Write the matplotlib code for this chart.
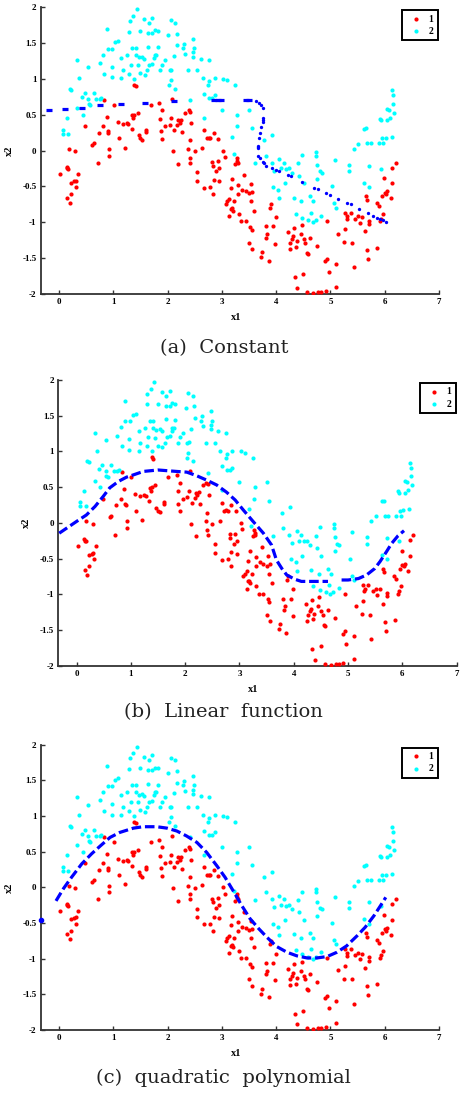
import numpy as np
import matplotlib
matplotlib.use("Agg")
import matplotlib.pyplot as plt

# class 1 (red) samples
red_x1 = [0.02, 0.14, 0.15, 0.17, 0.15, 0.20, 0.22, 0.23, 0.28, 0.31, 0.32, 0.35, 0.30, 0.18,
          0.48, 0.61, 0.64, 0.71, 0.73, 0.81, 0.83, 0.88, 0.90, 0.91, 0.92, 0.93, 1.01, 1.08,
          1.10, 1.17, 1.21, 1.25, 1.27, 1.35, 1.34, 1.37, 1.39, 1.45, 1.47, 1.50, 1.53, 1.61,
          1.61, 1.38, 1.41, 1.69, 1.84, 1.86, 1.87, 1.90, 1.90, 2.09, 1.96, 2.04, 2.07, 2.10,
          2.12, 2.18, 2.19, 2.22, 2.25, 2.27, 2.20, 2.33, 2.39, 2.42, 2.44, 2.41, 2.38, 2.41,
          2.42, 2.50, 2.54, 2.54, 2.64, 2.68, 2.72, 2.76, 2.79, 2.85, 2.68, 2.79, 2.82, 2.83,
          2.84, 2.85, 2.89, 2.92, 2.95, 2.95, 2.93, 3.02, 3.05, 3.07, 3.10, 3.13, 3.14, 3.16,
          3.16, 3.18, 3.19, 3.20, 3.23, 3.24, 3.27, 3.28, 3.29, 3.30, 3.31, 3.30, 3.35, 3.38,
          3.41, 3.44, 3.44, 3.50, 3.52, 3.53, 3.54, 3.55, 3.56, 3.59, 3.50, 3.56, 3.72, 3.74,
          3.81, 3.84, 3.86, 3.82, 3.88, 3.90, 3.94, 3.98, 3.99, 4.22, 4.25, 4.26, 4.30, 4.31,
          4.33, 4.36, 4.38, 4.45, 4.47, 4.51, 4.53, 4.56, 4.58, 4.63, 4.76, 4.34, 4.39, 4.50,
          4.57, 4.68, 4.78, 4.83, 4.91, 4.90, 4.94, 4.94, 4.97, 5.11, 5.10, 5.14, 5.25, 5.27,
          5.27, 5.30, 5.31, 5.37, 5.40, 5.43, 5.46, 5.51, 5.54, 5.59, 5.64, 5.65, 5.67, 5.68,
          5.69, 5.71, 5.71, 5.85, 5.86, 5.89, 5.91, 5.94, 5.95, 5.97, 5.99, 6.00, 6.03, 6.05,
          6.11, 6.14, 6.14, 6.20]
red_x2 = [-0.33, -0.23, -0.25, -0.26, -0.66, -0.73, -0.61, -0.45, -0.43, -0.42, -0.51, -0.33, -0.01, 0.02,
          0.34, 0.08, 0.10, -0.17, 0.25, 0.34, 0.71, 0.47, 0.27, 0.25, 0.02, -0.07, 0.64, 0.40,
          0.17, 0.37, 0.04, 0.39, 0.37, 0.49, 0.30, 0.45, 0.50, 0.53, 0.21, 0.17, 0.15, 0.29,
          0.26, 0.92, 0.90, 0.64, 0.67, 0.44, 0.27, 0.16, 0.56, 0.72, 0.34, 0.36, 0.45, -0.01,
          0.28, 0.35, 0.42, 0.39, 0.43, 0.26, -0.19, 0.53, 0.56, 0.54, 0.39, 0.14, 0.02, -0.10,
          -0.17, -0.01, -0.30, -0.42, 0.03, 0.28, 0.17, 0.18, 0.17, 0.25, -0.52, -0.51, -0.16, -0.21,
          -0.61, -0.41, -0.29, -0.15, -0.25, -0.43, 0.16, 0.00, -0.09, -0.75, -0.71, -0.68, -0.92, -0.53,
          -0.82, -0.81, -0.40, -0.84, -0.71, -0.19, -0.10, -0.14, -0.17, -0.48, -0.89, -0.61, -0.99, -0.55,
          -0.34, -0.57, -0.99, -0.60, -1.07, -0.47, -0.71, -1.11, -0.58, -0.84, -1.29, -1.38, -1.49, -1.42,
          -1.06, -1.17, -1.54, -1.22, -0.80, -0.75, -1.06, -1.30, -0.93, -1.14, -1.37, -1.29, -1.24, -1.20,
          -1.08, -1.35, -1.27, -1.17, -1.04, -1.24, -1.29, -1.43, -1.44, -1.22, -1.33, -1.77, -1.92, -1.73,
          -1.97, -1.99, -1.97, -1.97, -1.96, -1.55, -0.99, -1.52, -1.69, -1.90, -1.59, -1.16, -1.28, -0.87,
          -1.10, -0.96, -0.92, -0.87, -1.29, -1.63, -0.95, -0.92, -1.01, -0.93, -1.13, -0.64, -0.69, -1.39,
          -1.51, -0.98, -1.03, -0.74, -1.36, -0.78, -0.99, -0.95, -0.64, -0.89, -0.39, -0.59, -0.61, -0.57,
          -0.67, -0.24, -0.46, -0.17]

# class 2 (cyan) samples
cyan_x1 = [1.43, 1.37, 1.30, 1.57, 1.72, 1.65, 2.06, 2.14, 0.89, 1.29, 1.49, 1.64, 1.72, 1.76,
           1.82, 2.01, 2.17, 2.31, 2.47, 2.49, 2.47, 2.47, 2.61, 2.76, 2.55, 2.65, 2.77, 2.87,
           2.75, 2.67, 2.77, 2.82, 2.87, 3.03, 3.10, 3.24, 3.00, 3.28, 3.27, 3.50, 3.55, 3.18,
           3.22, 3.61, 3.78, 3.81, 3.93, 3.92, 3.96, 3.95, 4.04, 4.06, 4.05, 4.09, 4.14, 4.19,
           4.24, 4.29, 4.40, 4.48, 4.51, 4.16, 4.32, 4.36, 4.42, 4.46, 4.63, 4.68, 4.74, 4.74,
           4.75, 4.80, 4.84, 4.76, 5.03, 5.08, 5.07, 5.10, 4.48, 4.59, 4.67, 4.73, 4.83, 4.65,
           5.34, 5.34, 5.43, 5.51, 5.62, 5.66, 5.68, 5.74, 5.71, 5.62, 5.71, 5.89, 5.91, 5.94,
           5.95, 5.97, 6.02, 6.05, 6.08, 6.05, 6.10, 6.15, 6.14, 6.16, 6.18, 6.13, 5.94, 2.68,
           0.07, 0.07, 0.14, 0.17, 0.20, 0.22, 0.34, 0.34, 0.37, 0.42, 0.44, 0.47, 0.54, 0.54,
           0.55, 0.58, 0.64, 0.68, 0.75, 0.78, 0.75, 0.81, 0.83, 0.90, 0.97, 0.98, 1.03, 1.09,
           0.97, 1.14, 1.15, 1.17, 1.26, 1.29, 1.32, 1.35, 1.41, 1.41, 1.38, 1.45, 1.49, 1.47,
           1.53, 1.57, 1.58, 1.63, 1.66, 1.72, 1.75, 1.76, 1.79, 1.86, 1.90, 1.96, 2.04, 2.06,
           2.07, 2.03, 2.14, 2.11, 2.18, 2.29, 2.33, 2.38, 2.42, 1.64, 1.82]
cyan_x2 = [1.97, 1.88, 1.81, 1.83, 1.85, 1.78, 1.82, 1.78, 1.70, 1.66, 1.67, 1.64, 1.64, 1.68,
           1.67, 1.61, 1.63, 1.49, 1.56, 1.43, 1.37, 1.31, 1.28, 1.26, 1.12, 1.01, 0.97, 1.01,
           0.91, 0.79, 0.74, 0.74, 0.77, 1.00, 0.98, 0.91, 0.57, 0.50, 0.34, 0.57, 0.31, 0.19,
           -0.05, -0.18, 0.14, -0.07, 0.22, -0.17, -0.28, -0.51, -0.55, -0.67, -0.12, -0.25, -0.17, -0.26,
           -0.25, -0.31, -0.18, -0.06, -0.46, -0.46, -0.66, -0.88, -0.35, -0.71, -0.64, -0.71, -0.02, -0.07,
           -0.20, -0.29, -0.31, -0.40, -0.50, -0.13, -0.74, -0.80, -0.94, -0.97, -1.00, -0.97, -0.91, -0.87,
           -0.20, -0.29, 0.02, 0.09, 0.30, 0.31, 0.10, 0.10, -0.21, -0.45, -0.51, 0.10, 0.44, 0.42,
           0.17, 0.10, 0.18, 0.58, 0.57, 0.42, 0.46, 0.65, 0.84, 0.77, 0.53, 0.19, -0.26, 0.46,
           0.29, 0.23, 0.45, 0.23, 0.86, 0.85, 0.59, 1.26, 1.01, 0.75, 0.50, 0.81, 1.16, 0.72,
           0.65, 0.64, 0.81, 0.72, 0.72, 0.74, 1.22, 1.34, 1.07, 1.42, 1.17, 1.42, 1.51, 1.53,
           1.02, 1.01, 1.29, 1.12, 1.33, 1.07, 1.20, 1.43, 1.43, 1.33, 1.00, 1.19, 1.08, 1.30,
           1.31, 1.28, 1.06, 1.12, 1.20, 1.21, 1.29, 1.33, 1.33, 1.12, 1.20, 1.26, 1.12, 0.98,
           1.13, 0.91, 0.86, 1.32, 1.47, 1.43, 1.35, 1.12, 0.70, 1.45, 1.44]

# (a) constant: boundary
const_bar_x = [-0.18, 0.11, 0.42, 0.76, 1.14, 1.58, 2.12, 2.85, 2.92, 2.98, 3.44, 3.50]
const_bar_y = [0.57, 0.58, 0.60, 0.63, 0.65, 0.67, 0.69, 0.71, 0.71, 0.71, 0.71, 0.71]
const_dot_x = [3.63, 3.69, 3.73, 3.75, 3.75, 3.75, 3.75, 3.73, 3.71, 3.69, 3.67, 3.67, 3.67, 3.67,
               3.70, 3.75, 3.78, 3.81, 3.93, 3.99, 4.05, 4.21, 4.27, 4.48, 4.70, 4.77, 4.92, 4.99,
               5.14, 5.30, 5.37, 5.53, 5.69, 5.78, 5.85, 5.91, 5.96, 6.02]
const_dot_y = [0.69, 0.665, 0.63, 0.59, 0.45, 0.42, 0.40, 0.33, 0.25, 0.17, 0.06, 0.05, 0.04, -0.07,
               -0.10, -0.16, -0.18, -0.21, -0.24, -0.27, -0.29, -0.34, -0.36, -0.44, -0.52, -0.54, -0.60, -0.62,
               -0.68, -0.74, -0.75, -0.82, -0.87, -0.92, -0.94, -0.96, -0.97, -1.00]

# (b) linear function boundary
lin_x = [-0.32, 0.00, 0.18, 0.34, 0.49, 0.61, 0.77, 0.92, 1.04, 1.23, 1.50, 1.84, 2.03, 2.21,
         2.39, 2.58, 2.76, 2.92, 3.07, 3.25, 3.44, 3.59, 3.68, 3.78, 3.87, 4.02, 4.14, 4.63]
lin_y = [-0.145, 0.02, 0.11, 0.23, 0.37, 0.49, 0.58, 0.64, 0.67, 0.72, 0.74, 0.72, 0.71, 0.66,
         0.60, 0.53, 0.43, 0.32, 0.18, 0.02, -0.145, -0.31, -0.52, -0.64, -0.73, -0.79, -0.82, -0.82]
lin_x_right = [4.88, 5.00, 5.19, 5.34, 5.49, 5.59, 5.71, 5.80, 5.92, 6.03]
lin_y_right = [-0.80, -0.80, -0.78, -0.73, -0.64, -0.54, -0.40, -0.29, -0.18, -0.11]

# (c) quadratic polynomial boundary
quad_x = [-0.055, 0.08, 0.23, 0.42, 0.60, 0.76, 0.94, 1.12, 1.37, 1.55, 1.80, 1.99, 2.17, 2.35,
          2.54, 2.72, 2.91, 3.06, 3.21, 3.37, 3.52, 3.68, 3.83, 4.01, 4.20, 4.38, 4.57, 4.75,
          4.94, 5.12, 5.30, 5.49, 5.64, 5.80, 5.92, 6.02]
quad_y = [-0.19, -0.02, 0.14, 0.33, 0.47, 0.58, 0.70, 0.77, 0.83, 0.85, 0.85, 0.83, 0.79, 0.72,
          0.63, 0.49, 0.30, 0.14, -0.05, -0.26, -0.44, -0.58, -0.70, -0.83, -0.91, -0.96, -0.99, -0.99,
          -0.97, -0.91, -0.82, -0.68, -0.56, -0.40, -0.26, -0.14]
quad_stray_x = [-0.34]
quad_stray_y = [-0.46]

W, H = 462, 1097
fig = plt.figure(figsize=(W / 100, H / 100), dpi=100)


def panel(left_px, top_px, bottom_px, right_px):
    ax = fig.add_axes([left_px / W, 1 - bottom_px / H, (right_px - left_px) / W, (bottom_px - top_px) / H])
    ax.scatter(red_x1, red_x2, s=9, c="#ff0000", linewidths=0, label="1", zorder=3)
    ax.scatter(cyan_x1, cyan_x2, s=9, c="#00ffff", linewidths=0, label="2", zorder=3)
    ax.set_xlim(-0.337, 7)
    ax.set_ylim(-2, 2)
    ax.set_xticks(range(8))
    ax.set_yticks([-2, -1.5, -1, -0.5, 0, 0.5, 1, 1.5, 2])
    ax.set_yticklabels(["-2", "-1.5", "-1", "-0.5", "0", "0.5", "1", "1.5", "2"])
    for s in ["top", "right"]:
        ax.spines[s].set_visible(False)
    for s in ["left", "bottom"]:
        ax.spines[s].set_linewidth(1.3)
        ax.spines[s].set_color("#333333")
    ax.tick_params(direction="in", length=3, width=1.0, color="#333333", pad=3)
    for lab in ax.get_xticklabels() + ax.get_yticklabels():
        lab.set_fontfamily("Liberation Serif")
        lab.set_fontweight("bold")
        lab.set_fontsize(6.5)
    ax.set_xlabel("x1", fontdict=dict(family="Liberation Serif", weight="bold", size=7.5))
    ax.set_ylabel("x2", fontdict=dict(family="Liberation Serif", weight="bold", size=7.5))
    ax.xaxis.set_label_coords(0.49, -0.067)
    ax.yaxis.set_label_coords(-0.068, 0.5)
    leg = ax.legend(loc="upper right", bbox_to_anchor=(0.997, 0.99), fancybox=False,
                    framealpha=1, edgecolor="black", handlelength=2.0, handletextpad=0.3,
                    borderpad=0.45, labelspacing=0.35, markerscale=1.0, borderaxespad=0,
                    prop=dict(family="Liberation Serif", weight="bold", size=7))
    leg.get_frame().set_linewidth(1.4)
    return ax


ax1 = panel(40.7, 7.3, 293.7, 439)
ax1.plot(const_bar_x, const_bar_y, ls="none", marker="_", ms=4.5, mew=2.3, color="#0000ff", zorder=4)
ax1.plot(const_dot_x, const_dot_y, ls="none", marker="o", ms=2.4, mew=0, color="#0000ff", zorder=4)

ax2 = panel(58.3, 380, 665.7, 456.7)
ax2.plot(lin_x, lin_y, color="#0000ff", lw=2.3, dashes=(3, 1.2), zorder=4)
ax2.plot(lin_x_right, lin_y_right, color="#0000ff", lw=2.3, dashes=(3, 1.2), zorder=4)

ax3 = panel(40.7, 744.7, 1030, 439)
ax3.plot(quad_x, quad_y, color="#0000ff", lw=2.3, dashes=(3, 1.2), zorder=4)
ax3.plot(quad_stray_x, quad_stray_y, ls="none", marker="o", ms=3, color="#0000ff", clip_on=False, zorder=4)

cap = dict(family="DejaVu Serif", size=14, color="#222222", ha="center", va="center")
fig.text(224 / W, 1 - 348 / H, "(a)  Constant", **cap)
fig.text(223 / W, 1 - 712 / H, "(b)  Linear  function", **cap)
fig.text(223 / W, 1 - 1078 / H, "(c)  quadratic  polynomial", **cap)

fig.savefig("out.png", dpi=100)
